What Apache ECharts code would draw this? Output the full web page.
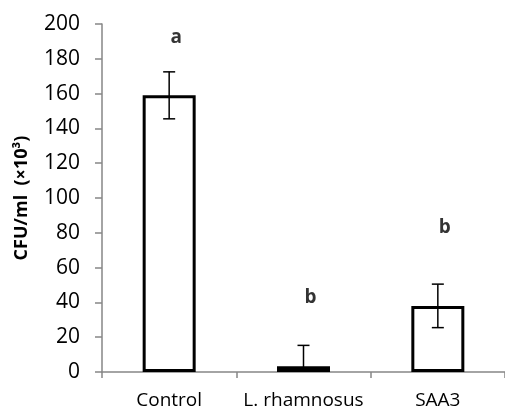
<!DOCTYPE html>
<html>
<head>
<meta charset="utf-8">
<script src="https://cdn.jsdelivr.net/npm/echarts@6/dist/echarts.min.js"></script>
<style>
html,body{margin:0;padding:0;background:#fff;}
#chart{width:505px;height:412px;}
</style>
</head>
<body>
<div id="chart"></div>
<script>
// Bacterial counts per treatment group
const categories = ['Control', 'L. rhamnosus', 'SAA3'];
const cfuMeans = [159, 3.3, 38];
const cfuErrors = [13.5, 12, 12.5];
// Significance letters and the height at which each sits
const sigLetters = ['a', 'b', 'b'];
const sigLetterY = [192, 42.5, 83];
const yTicks = [0, 20, 40, 60, 80, 100, 120, 140, 160, 180, 200];

const FONT = '"Open Sans", "Liberation Sans", sans-serif';
const axisGray = '#868686';

const chart = echarts.init(document.getElementById('chart'), null, {renderer: 'canvas'});

const option = {
  animation: false,
  backgroundColor: '#ffffff',
  // plot area runs a little past the right edge of the canvas
  grid: {left: 102, top: 24, width: 408, height: 348, containLabel: false},
  xAxis: {
    type: 'category',
    data: categories,
    boundaryGap: true,
    axisLine: {lineStyle: {color: axisGray, width: 1.5}},
    axisTick: {show: true, length: 6, lineStyle: {color: axisGray, width: 1.5}, alignWithLabel: false},
    axisLabel: {color: '#000', fontFamily: FONT, fontSize: 19, margin: 19, interval: 0}
  },
  yAxis: {
    type: 'value',
    min: yTicks[0],
    max: yTicks[yTicks.length - 1],
    interval: yTicks[1] - yTicks[0],
    name: 'CFU/ml  (×10³)',
    nameLocation: 'middle',
    nameGap: 71,
    nameTextStyle: {color: '#000', fontFamily: FONT, fontSize: 18, fontWeight: 'bold'},
    axisLine: {show: true, lineStyle: {color: axisGray, width: 1.5}},
    axisTick: {show: true, length: 7, lineStyle: {color: axisGray, width: 1.5}},
    splitLine: {show: false},
    axisLabel: {color: '#000', fontFamily: FONT, fontSize: 21, margin: 22}
  },
  series: [
    {
      type: 'bar',
      data: cfuMeans,
      barWidth: 53,
      itemStyle: {color: '#ffffff', borderColor: '#000', borderWidth: 3}
    },
    {
      type: 'custom',
      z: 5,
      data: cfuMeans.map((m, i) => [i, m, cfuErrors[i]]),
      renderItem: function (params, api) {
        const i = api.value(0);
        const m = api.value(1);
        const e = api.value(2);
        const lo = Math.max(m - e, 0);
        const hi = m + e;
        const pHi = api.coord([i, hi]);
        const pLo = api.coord([i, lo]);
        const cap = 6;
        const style = {stroke: '#000', lineWidth: 1.5};
        const kids = [
          {type: 'line', shape: {x1: pHi[0], y1: pHi[1], x2: pLo[0], y2: pLo[1]}, style: style},
          {type: 'line', shape: {x1: pHi[0] - cap, y1: pHi[1], x2: pHi[0] + cap, y2: pHi[1]}, style: style}
        ];
        if (m - e > 0) {
          kids.push({type: 'line', shape: {x1: pLo[0] - cap, y1: pLo[1], x2: pLo[0] + cap, y2: pLo[1]}, style: style});
        }
        return {type: 'group', children: kids};
      }
    },
    {
      type: 'scatter',
      symbolSize: 0,
      data: sigLetterY.map((y, i) => ({value: [i, y], label: {formatter: sigLetters[i]}})),
      label: {
        show: true,
        position: 'inside',
        offset: [7, 0],
        color: '#000',
        fontFamily: FONT,
        fontSize: 19,
        fontWeight: 'bold'
      }
    }
  ]
};

chart.setOption(option);
</script>
</body>
</html>
